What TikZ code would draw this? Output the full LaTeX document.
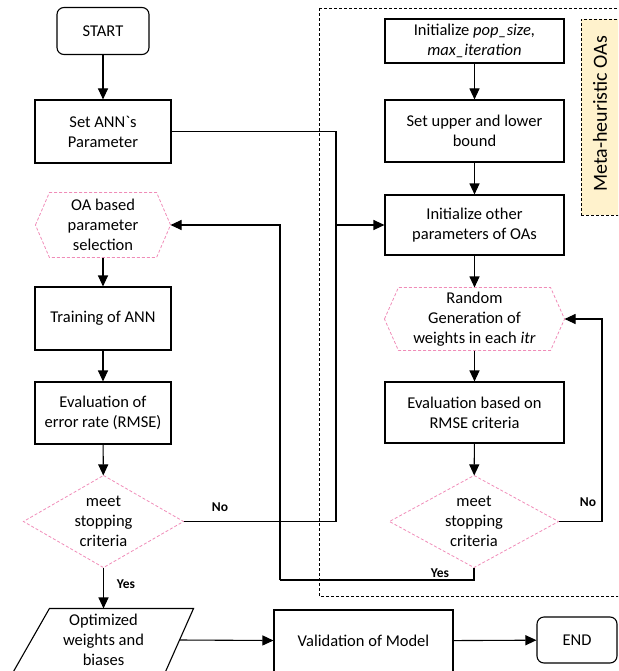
\documentclass[tikz,border=0pt]{standalone}
\usepackage{fontspec}
\setmainfont{Carlito}
\usetikzlibrary{arrows.meta}
\definecolor{pinkd}{HTML}{F08CB8}
\definecolor{yel}{HTML}{FFF2CC}
\begin{document}
\begin{tikzpicture}[x=1pt,y=-1pt,
  line width=1.1pt,
  arr/.style={-{Triangle[length=11pt,width=10pt]}},
  box/.style={draw,rectangle,align=center,font=\fontsize{16.5}{20}\selectfont,inner sep=0pt},
  ghost/.style={rectangle,align=center,font=\fontsize{16.5}{20}\selectfont,inner sep=0pt},
  pinkshape/.style={draw=pinkd,dashed,line width=0.8pt,dash pattern=on 3pt off 2pt},
  lbl/.style={font=\fontsize{13.5}{15}\selectfont\bfseries,inner sep=0pt}
]
\useasboundingbox (0,0) rectangle (618,671);
\clip (0,0) rectangle (618,671);
% outer dashed region
\draw[line width=0.7pt,dash pattern=on 3pt off 2pt] (319,8) rectangle (640,596);
% yellow tag
\node[draw,fill=yel,line width=0.7pt,dash pattern=on 3pt off 2pt,minimum width=50pt,minimum height=196pt,inner sep=0pt] (tag) at (606,117) {};
\node[rotate=90,font=\fontsize{20}{24}\selectfont,inner sep=0pt] (tagtxt) at (600,114) {Meta-heuristic OAs};

% left column
\node[box,rounded corners=7pt,minimum width=92pt,minimum height=47pt] (start) at (103,31) {START};
\node[box,minimum width=136pt,minimum height=63pt] (setann) at (103,131.5) {Set ANN\textasciigrave s\\Parameter};
\node[ghost,minimum width=134pt,minimum height=64pt] (oa) at (103,225) {OA based\\parameter\\selection};
\draw[pinkshape] (oa.west) -- ([xshift=14pt]oa.north west) -- ([xshift=-14pt]oa.north east) -- (oa.east) -- ([xshift=-14pt]oa.south east) -- ([xshift=14pt]oa.south west) -- cycle;
\node[box,minimum width=136pt,minimum height=63pt] (train) at (103,318.5) {Training of ANN};
\node[box,minimum width=136pt,minimum height=62pt] (evalerr) at (103,413) {Evaluation of\\error rate (RMSE)};
\node[ghost,minimum width=159pt,minimum height=91pt] (d1) at (103.5,521.5) {meet\\stopping\\criteria};
\draw[pinkshape] (d1.north) -- (d1.east) -- (d1.south) -- (d1.west) -- cycle;
\node[ghost,minimum width=179pt,minimum height=62pt] (opt) at (103.5,640) {Optimized\\weights and\\biases};
\draw (opt.north east) -- ([xshift=-28pt]opt.south east) -- (opt.south west) -- ([xshift=36pt]opt.north west) -- cycle;
\node[box,minimum width=179pt,minimum height=62pt] (valid) at (363.5,641) {Validation of Model};
\node[box,rounded corners=7pt,minimum width=80pt,minimum height=46pt] (endn) at (577,640) {END};

% right column
\node[box,minimum width=179pt,minimum height=44pt] (init) at (474.5,41) {Initialize \textit{pop\_size,}\\\textit{max\_iteration}};
\node[box,minimum width=179pt,minimum height=62pt] (setub) at (474.5,131) {Set upper and lower\\bound};
\node[box,minimum width=179pt,minimum height=60pt] (initoth) at (474.5,225) {Initialize other\\parameters of OAs};
\node[ghost,minimum width=179pt,minimum height=62pt] (rand) at (474.5,319) {Random\\Generation of\\weights in each \textit{itr}};
\draw[pinkshape] (rand.west) -- ([xshift=14pt]rand.north west) -- ([xshift=-14pt]rand.north east) -- (rand.east) -- ([xshift=-14pt]rand.south east) -- ([xshift=14pt]rand.south west) -- cycle;
\node[box,minimum width=179pt,minimum height=61pt] (evalrm) at (474.5,412.5) {Evaluation based on\\RMSE criteria};
\node[ghost,minimum width=168pt,minimum height=91pt] (d2) at (474,521.5) {meet\\stopping\\criteria};
\draw[pinkshape] (d2.north) -- (d2.east) -- (d2.south) -- (d2.west) -- cycle;

% junction coordinates
\coordinate (j) at (336,225);
\coordinate (yc) at (280,580);
\coordinate (nc) at (602,521.5);

% connectors
\draw[arr] (start) -- (setann);
\draw[arr] (oa) -- (train);
\draw[arr] (train) -- (evalerr);
\draw[arr] (evalerr) -- (d1);
\draw[arr] (d1) -- (opt);
\draw[arr] ([xshift=-14pt]opt.east) -- (valid);
\draw[arr] (valid) -- (endn);
\draw (setann.east) -| (j);
\draw (d1.east) -| (j);
\draw[arr] (j) -- (initoth.west);
\draw[arr] (init) -- (setub);
\draw[arr] (setub) -- (initoth);
\draw[arr] (initoth) -- (rand);
\draw[arr] (rand) -- (evalrm);
\draw[arr] (evalrm) -- (d2);
\draw (d2.east) -- (nc);
\draw[arr] (nc) |- (rand.east);
\draw (d2.south) |- (yc);
\draw[arr] (yc) |- (oa.east);

% labels
\node[lbl] (no1) at (220,507) {No};
\node[lbl] (yes1) at (126,584) {Yes};
\node[lbl] (no2) at (588,502) {No};
\node[lbl] (yes2) at (440,573) {Yes};
\end{tikzpicture}
\end{document}
